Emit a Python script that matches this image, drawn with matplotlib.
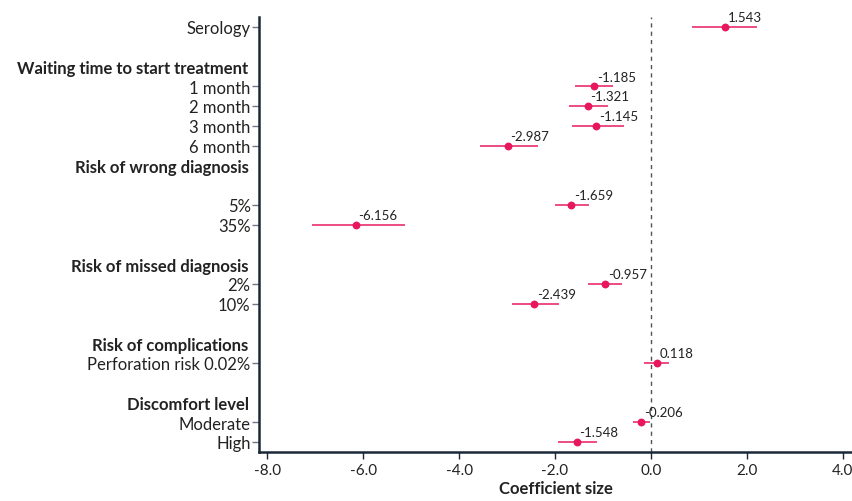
import matplotlib
matplotlib.use("Agg")
import matplotlib.pyplot as plt
from matplotlib.ticker import FormatStrFormatter

plt.rcParams['font.family'] = ['Lato', 'DejaVu Sans']
plt.rcParams['axes.unicode_minus'] = False

# attribute levels, one row each (row index counts from the top)
labels = ["Serology", "1 month", "2 month", "3 month", "6 month", "5%", "35%",
          "2%", "10%", "Perforation risk 0.02%", "Moderate", "High"]
rows = [0, 3, 4, 5, 6, 9, 10, 13, 14, 17, 20, 21]
coef = [1.543, -1.185, -1.321, -1.145, -2.987, -1.659, -6.156,
        -0.957, -2.439, 0.118, -0.206, -1.548]
lower = [0.854, -1.577, -1.70, -1.65, -3.56, -2.0, -7.07,
         -1.31, -2.896, -0.146, -0.38, -1.93]
upper = [2.22, -0.785, -0.90, -0.57, -2.36, -1.285, -5.125,
         -0.60, -1.917, 0.381, -0.02, -1.13]

# group headers
headers = ["Waiting time to start treatment", "Risk of wrong diagnosis",
           "Risk of missed diagnosis", "Risk of complications", "Discomfort level"]
header_rows = [2, 7, 12, 16, 19]

xticks = [-8.0, -6.0, -4.0, -2.0, 0.0, 2.0, 4.0]

pink = '#e8175d'
dark = '#1b2838'

fig = plt.figure(figsize=(8.52, 5.02), dpi=100)
ax = fig.add_axes([0.304, 0.098, 0.696, 0.866])

ax.axvline(0, color='#4a5560', lw=1, ls=(0, (3, 3)), zorder=1)
ax.hlines(rows, lower, upper, color=pink, lw=1.2, alpha=0.9, zorder=2)
ax.scatter(coef, rows, s=32, color=pink, zorder=3, linewidths=0)

for x, y in zip(coef, rows):
    ax.annotate(f"{x:.3f}", (x, y), xytext=(2, 7), textcoords='offset points',
                ha='left', va='center', fontsize=9.5, color='#222222')

ax.set_xlim(-8.17, 4.19)
ax.set_ylim(21.5, -0.5)

ax.set_yticks(rows)
ax.set_yticklabels(labels, fontsize=12, color='#222222')
ax.tick_params(axis='y', length=5, width=1, color='#6b7885', pad=1)

for txt, r in zip(headers, header_rows):
    ax.annotate(txt, (0, r + 0.1), xycoords=('axes fraction', 'data'),
                xytext=(-7.5, 0), textcoords='offset points',
                ha='right', va='center', fontsize=12, fontweight='bold', color='#222222')

ax.set_xticks(xticks)
ax.xaxis.set_major_formatter(FormatStrFormatter('%.1f'))
ax.tick_params(axis='x', length=5, width=1, color=dark, labelsize=11,
               labelcolor='#222222', pad=3)
ax.set_xlabel("Coefficient size", fontsize=12, fontweight='bold', color='#222222',
              labelpad=2)

for s in ['top', 'right']:
    ax.spines[s].set_visible(False)
for s in ['left', 'bottom']:
    ax.spines[s].set_color(dark)
    ax.spines[s].set_linewidth(1.8)

fig.savefig("out.png", dpi=100)
